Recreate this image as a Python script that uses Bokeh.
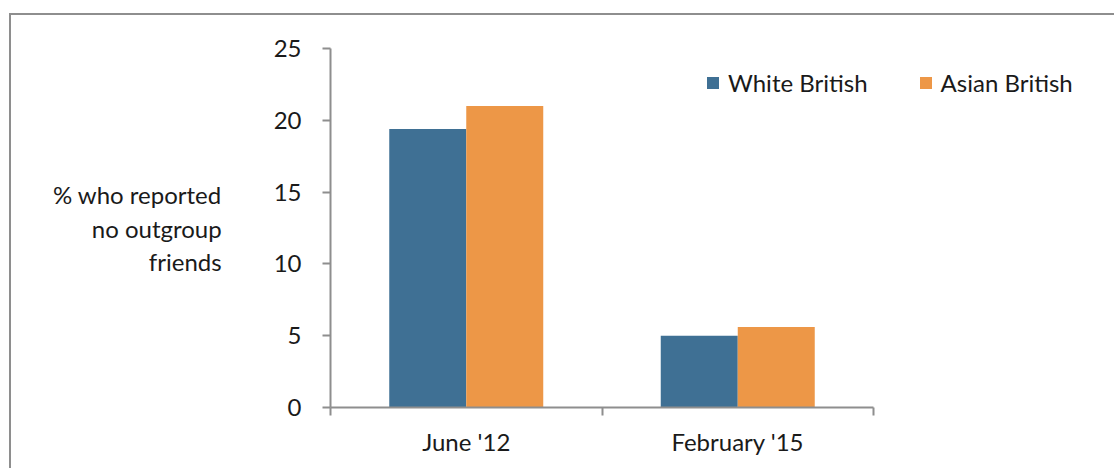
from bokeh.plotting import figure
from bokeh.models import (ColumnDataSource, Range1d, LinearAxis, FixedTicker,
                          Legend, LegendItem, Label)
from bokeh.transform import dodge
from bokeh.embed import file_html
from bokeh.resources import INLINE

# ---- data ----
categories = ["June '12", "February '15"]
white_british = [19.4, 5.0]
asian_british = [21.0, 5.6]
series_names = ["White British", "Asian British"]
y_ticks = [0, 5, 10, 15, 20, 25]
y_title = "% who reported\nno outgroup\nfriends"

BLUE = "#3F7094"
ORANGE = "#ED9747"
GREY = "#8E8E8E"
FONT = "Lato"
FS = "24px"

# layout constants (pixels)
W, H = 1105, 455
LEFT, TOP, AXIS_W = 319, 33, 543
FRAME_H = 359
frame_w = W - LEFT

n = len(categories)
centres = [i + 0.5 for i in range(n)]
src = ColumnDataSource(dict(x=centres, cat=categories, white=white_british, asian=asian_british))

p = figure(x_range=Range1d(0, n * frame_w / AXIS_W), y_range=Range1d(0, 25),
           width=W, height=H,
           output_backend="svg", toolbar_location=None,
           x_axis_location=None, y_axis_location=None,
           min_border_left=LEFT, min_border_right=0,
           min_border_top=TOP, min_border_bottom=H - TOP - FRAME_H)
p.margin = (13, 0, 0, 9)
p.styles = {"border-top": "2px solid #8E8E8E", "border-left": "2px solid #8E8E8E"}
p.outline_line_color = None
p.xgrid.visible = False
p.ygrid.visible = False
p.background_fill_color = "white"
p.border_fill_color = "white"

bw = 0.2836
r1 = p.vbar(x=dodge("x", -bw / 2), top="white", width=bw, source=src,
            fill_color=BLUE, line_color=None)
r2 = p.vbar(x=dodge("x", bw / 2), top="asian", width=bw, source=src,
            fill_color=ORANGE, line_color=None)

# y axis
yax = LinearAxis(ticker=FixedTicker(ticks=y_ticks, minor_ticks=[]))
yax.axis_line_color = GREY
yax.axis_line_width = 2
yax.major_tick_line_color = GREY
yax.major_tick_line_width = 2
yax.major_tick_out = 8
yax.major_tick_in = 0
yax.minor_tick_line_color = None
yax.major_label_text_font = FONT
yax.major_label_text_font_size = FS
yax.major_label_text_color = "#1a1a1a"
yax.major_label_standoff = 21

yax.axis_label_orientation = "horizontal"
yax.axis_label = y_title
yax.axis_label_text_font = FONT
yax.axis_label_text_font_size = FS
yax.axis_label_text_font_style = "normal"
yax.axis_label_text_color = "#1a1a1a"
yax.axis_label_text_line_height = 1.14
yax.axis_label_text_align = "left"
yax.axis_label_standoff = 49
p.add_layout(yax, "left")

# x axis (ticks at category boundaries, labels at centres)
xax = LinearAxis(ticker=FixedTicker(ticks=centres, minor_ticks=list(range(n + 1))),
                 bounds=(0, n))
xax.major_label_overrides = {c: lab for c, lab in zip(centres, categories)}
xax.axis_line_color = GREY
xax.axis_line_width = 2
xax.major_tick_line_color = None
xax.major_tick_out = 8
xax.minor_tick_line_color = GREY
xax.minor_tick_line_width = 2
xax.minor_tick_out = 8
xax.minor_tick_in = 0
xax.major_label_text_font = FONT
xax.major_label_text_font_size = FS
xax.major_label_text_color = "#1a1a1a"
xax.major_label_standoff = 11
p.add_layout(xax, "below")

# legend
legend = Legend(items=[LegendItem(label=series_names[0], renderers=[r1]),
                       LegendItem(label=series_names[1], renderers=[r2])],
                orientation="horizontal", location=(375, 310),
                glyph_width=15, glyph_height=15, label_standoff=8, spacing=50,
                padding=0, margin=0, border_line_color=None, background_fill_alpha=0,
                label_text_font=FONT, label_text_font_size=FS, label_text_color="#1a1a1a")
p.add_layout(legend, "center")

open("out.html", "w").write(file_html(p, INLINE))
